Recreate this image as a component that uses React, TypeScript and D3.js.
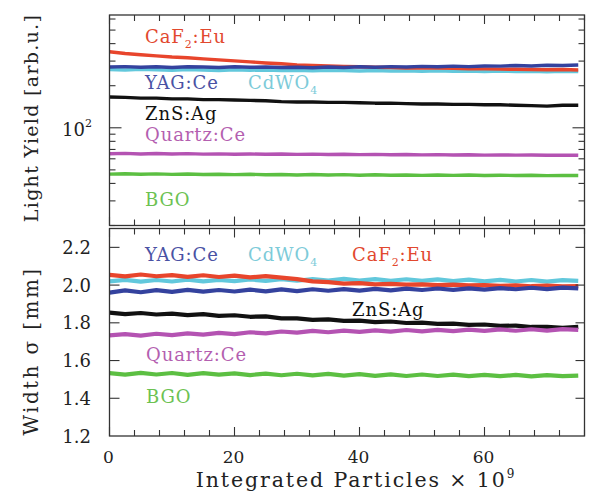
import React from "react";
import * as d3 from "d3";

const xs = [0, 2.5, 5, 7.5, 10, 12.5, 15, 17.5, 20, 22.5, 25, 27.5, 30, 32.5, 35, 37.5, 40, 42.5, 45, 47.5, 50, 52.5, 55, 57.5, 60, 62.5, 65, 67.5, 70, 72.5, 75];

// Top panel: light yield [arb.u.]
const lyCaF2 = [350, 340, 333, 327, 321, 317, 311, 306, 301, 296, 291, 287, 282, 279, 277, 275, 273, 271, 270, 268, 268, 267, 266, 264, 264, 263, 262, 261, 260, 261, 259];
const lyYAG = [272, 274, 271, 273, 270, 273, 272, 270, 273, 271, 272, 270, 271, 269, 272, 270, 273, 271, 274, 272, 275, 273, 276, 274, 277, 276, 279, 277, 280, 279, 281];
const lyCdWO4 = [261, 259, 262, 260, 258, 261, 259, 257, 260, 258, 259, 257, 258, 256, 258, 257, 255, 257, 255, 256, 254, 256, 254, 255, 253, 255, 253, 254, 252, 254, 253];
const lyZnS = [166, 165, 163, 163, 161, 161, 159, 159, 158, 157, 156, 154, 153, 153, 152, 152, 151, 150, 150, 149, 148, 148, 147, 147, 146, 146, 145, 144, 143, 145, 145];
const lyQuartz = [65.2, 65.6, 64.9, 65.4, 65.0, 65.3, 64.8, 65.1, 64.7, 65.0, 64.6, 64.9, 64.5, 64.8, 64.4, 64.7, 64.3, 64.5, 64.1, 64.4, 64.0, 64.3, 63.9, 64.1, 63.8, 64.0, 63.7, 63.9, 63.6, 63.8, 63.6];
const lyBGO = [46.6, 46.9, 46.5, 46.8, 46.4, 46.7, 46.3, 46.5, 46.2, 46.5, 46.1, 46.3, 46.0, 46.3, 45.9, 46.2, 45.8, 46.1, 45.8, 46.0, 45.7, 45.9, 45.7, 45.9, 45.6, 45.8, 45.6, 45.8, 45.5, 45.7, 45.6];

// Bottom panel: width sigma [mm]
const wCaF2 = [2.054, 2.046, 2.056, 2.047, 2.053, 2.044, 2.052, 2.043, 2.050, 2.041, 2.048, 2.040, 2.032, 2.020, 2.016, 2.008, 2.010, 2.004, 2.006, 2.002, 2.004, 2.000, 2.002, 1.998, 2.000, 1.996, 1.998, 1.994, 1.997, 1.993, 1.995];
const wCdWO4 = [2.020, 2.028, 2.018, 2.027, 2.019, 2.029, 2.020, 2.028, 2.021, 2.030, 2.022, 2.031, 2.023, 2.032, 2.024, 2.033, 2.024, 2.032, 2.023, 2.031, 2.022, 2.030, 2.021, 2.029, 2.020, 2.028, 2.019, 2.027, 2.018, 2.026, 2.022];
const wYAG = [1.960, 1.972, 1.962, 1.973, 1.964, 1.975, 1.965, 1.974, 1.966, 1.976, 1.967, 1.977, 1.968, 1.978, 1.970, 1.979, 1.971, 1.980, 1.972, 1.981, 1.974, 1.982, 1.975, 1.983, 1.976, 1.984, 1.978, 1.986, 1.979, 1.987, 1.983];
const wZnS = [1.854, 1.846, 1.852, 1.844, 1.849, 1.841, 1.846, 1.837, 1.840, 1.832, 1.834, 1.824, 1.824, 1.816, 1.818, 1.810, 1.812, 1.804, 1.807, 1.799, 1.801, 1.794, 1.796, 1.789, 1.791, 1.784, 1.785, 1.778, 1.779, 1.773, 1.778];
const wQuartz = [1.733, 1.740, 1.732, 1.742, 1.735, 1.744, 1.737, 1.747, 1.740, 1.750, 1.744, 1.754, 1.748, 1.757, 1.750, 1.759, 1.752, 1.760, 1.753, 1.762, 1.755, 1.763, 1.756, 1.764, 1.757, 1.765, 1.758, 1.766, 1.759, 1.767, 1.763];
const wBGO = [1.533, 1.525, 1.535, 1.526, 1.534, 1.524, 1.533, 1.525, 1.532, 1.523, 1.531, 1.522, 1.530, 1.521, 1.529, 1.520, 1.528, 1.519, 1.527, 1.518, 1.526, 1.518, 1.525, 1.517, 1.524, 1.517, 1.524, 1.516, 1.523, 1.517, 1.520];

const xTicks = [0, 4, 8, 12, 16, 20, 24, 28, 32, 36, 40, 44, 48, 52, 56, 60, 64, 68, 72, 76];
const xTickLabels = [0, 20, 40, 60];
const logTicks = [20, 30, 40, 50, 60, 70, 80, 90, 100, 200, 300, 400, 500, 600];
const wTicks = [1.4, 1.6, 1.8, 2.0, 2.2];
const wTickLabels = ["1.2", "1.4", "1.6", "1.8", "2.0", "2.2"];

const C = {
  red: "#e8452c",
  blue: "#34429e",
  cyan: "#62c8dc",
  black: "#111111",
  magenta: "#b453b2",
  green: "#5cbf42",
};
const TC = {
  red: "#e2482e",
  blue: "#4a52a4",
  cyan: "#7dcbd9",
  black: "#111111",
  magenta: "#b45fb0",
  green: "#6cc252",
};

const FONT = "'DejaVu Serif', serif";

export default function App() {
  const L = 109.5, R = 584.5;
  const T1 = 15, B1 = 225.5, T2 = 228.5, B2 = 436;
  const x = d3.scaleLinear().domain([0, 76]).range([L, R]);
  const y1 = d3.scaleLog().domain([20, 641]).range([B1, T1]);
  const y2 = d3.scaleLinear().domain([1.2, 2.3]).range([B2, T2]);

  const mk = (ys: number[], sc: any) =>
    d3.line<number>().x((_, i) => x(xs[i])).y((v) => sc(v))(ys) || "";

  const topSeries = [
    { d: lyCdWO4, c: C.cyan },
    { d: lyCaF2, c: C.red },
    { d: lyYAG, c: C.blue },
    { d: lyZnS, c: C.black },
    { d: lyQuartz, c: C.magenta },
    { d: lyBGO, c: C.green },
  ];
  const botSeries = [
    { d: wCdWO4, c: C.cyan },
    { d: wCaF2, c: C.red },
    { d: wYAG, c: C.blue },
    { d: wZnS, c: C.black },
    { d: wQuartz, c: C.magenta },
    { d: wBGO, c: C.green },
  ];

  const axisCol = "#333";
  const xTickMarks = (top: number, bot: number) =>
    xTicks.map((t) => {
      const len = t % 20 === 0 ? 9 : 6;
      return (
        <g key={"xt" + top + t}>
          <line x1={x(t)} x2={x(t)} y1={top} y2={top + len} stroke={axisCol} strokeWidth={1.1} />
          <line x1={x(t)} x2={x(t)} y1={bot} y2={bot - len} stroke={axisCol} strokeWidth={1.1} />
        </g>
      );
    });

  const label = (txt: string, sub: string | null, rest: string, px: number, py: number, col: string) => (
    <text x={px} y={py} fill={col} fontFamily={FONT} fontSize={18} letterSpacing={0.9}>
      {txt}
      {sub !== null && (
        <tspan fontSize={11} dy={5}>
          {sub}
        </tspan>
      )}
      {rest && <tspan dy={sub !== null ? -5 : 0}>{rest}</tspan>}
    </text>
  );

  return (
    <svg width={592} height={493} style={{ position: "absolute", left: 0, top: 0, background: "#fff" }}>
      <rect x={0} y={0} width={592} height={493} fill="#fff" />
      {/* Series */}
      <g fill="none" strokeLinejoin="round">
        {topSeries.map((s, i) => (
          <path key={"t" + i} d={mk(s.d, y1)} stroke={s.c} strokeWidth={3.4} />
        ))}
        {botSeries.map((s, i) => (
          <path key={"b" + i} d={mk(s.d, y2)} stroke={s.c} strokeWidth={4.2} />
        ))}
      </g>

      {/* Frames */}
      <rect x={L} y={T1} width={R - L} height={B1 - T1} fill="none" stroke={axisCol} strokeWidth={1.3} />
      <rect x={L} y={T2} width={R - L} height={B2 - T2} fill="none" stroke={axisCol} strokeWidth={1.3} />

      {xTickMarks(T1, B1)}
      {xTickMarks(T2, B2)}

      {/* Top y ticks (log) */}
      {logTicks.map((t) => {
        const len = t === 100 ? 12 : 6;
        return (
          <g key={"lt" + t}>
            <line x1={L} x2={L + len} y1={y1(t)} y2={y1(t)} stroke={axisCol} strokeWidth={1.1} />
            <line x1={R} x2={R - len} y1={y1(t)} y2={y1(t)} stroke={axisCol} strokeWidth={1.1} />
          </g>
        );
      })}
      <text x={62} y={136} fontFamily={FONT} fontSize={18} fill="#222">
        10
        <tspan fontSize={11} dy={-9}>
          2
        </tspan>
      </text>

      {/* Bottom y ticks */}
      {wTicks.map((t) => (
        <g key={"wt" + t}>
          <line x1={L} x2={L + 10} y1={y2(t)} y2={y2(t)} stroke={axisCol} strokeWidth={1.1} />
          <line x1={R} x2={R - 9} y1={y2(t)} y2={y2(t)} stroke={axisCol} strokeWidth={1.1} />
        </g>
      ))}
      {wTickLabels.map((s) => (
        <text key={"wl" + s} x={91} y={y2(parseFloat(s)) + 6.5} textAnchor="end" fontFamily={FONT} fontSize={18} fill="#222">
          {s}
        </text>
      ))}

      {/* X tick labels */}
      {xTickLabels.map((t) => (
        <text key={"xl" + t} x={x(t) - 1} y={463} textAnchor="middle" fontFamily={FONT} fontSize={17} fill="#222">
          {t}
        </text>
      ))}
      <text x={356} y={487} textAnchor="middle" fontFamily={FONT} fontSize={20.5} letterSpacing={1.9} fill="#222">
        Integrated Particles × 10
        <tspan fontSize={12} dy={-9}>
          9
        </tspan>
      </text>

      {/* Y titles */}
      <text transform="translate(31,118) rotate(-90)" textAnchor="middle" dominantBaseline="central" fontFamily={FONT} fontSize={19} letterSpacing={1.3} fill="#222">
        Light Yield [arb.u.]
      </text>
      <text transform="translate(31,351) rotate(-90)" textAnchor="middle" dominantBaseline="central" fontFamily={FONT} fontSize={20} letterSpacing={2.4} fill="#222">
        Width σ [mm]
      </text>

      {/* Top labels */}
      {label("CaF", "2", ":Eu", 145, 43, TC.red)}
      {label("YAG:Ce", null, "", 145, 89, TC.blue)}
      {label("CdWO", "4", "", 248, 89, TC.cyan)}
      {label("ZnS:Ag", null, "", 145, 120, TC.black)}
      {label("Quartz:Ce", null, "", 145, 141, TC.magenta)}
      {label("BGO", null, "", 145, 206, TC.green)}

      {/* Bottom labels */}
      {label("YAG:Ce", null, "", 145, 261, TC.blue)}
      {label("CdWO", "4", "", 248, 261, TC.cyan)}
      {label("CaF", "2", ":Eu", 352, 261, TC.red)}
      {label("ZnS:Ag", null, "", 352, 316, TC.black)}
      {label("Quartz:Ce", null, "", 146, 361, TC.magenta)}
      {label("BGO", null, "", 146, 403, TC.green)}
    </svg>
  );
}
